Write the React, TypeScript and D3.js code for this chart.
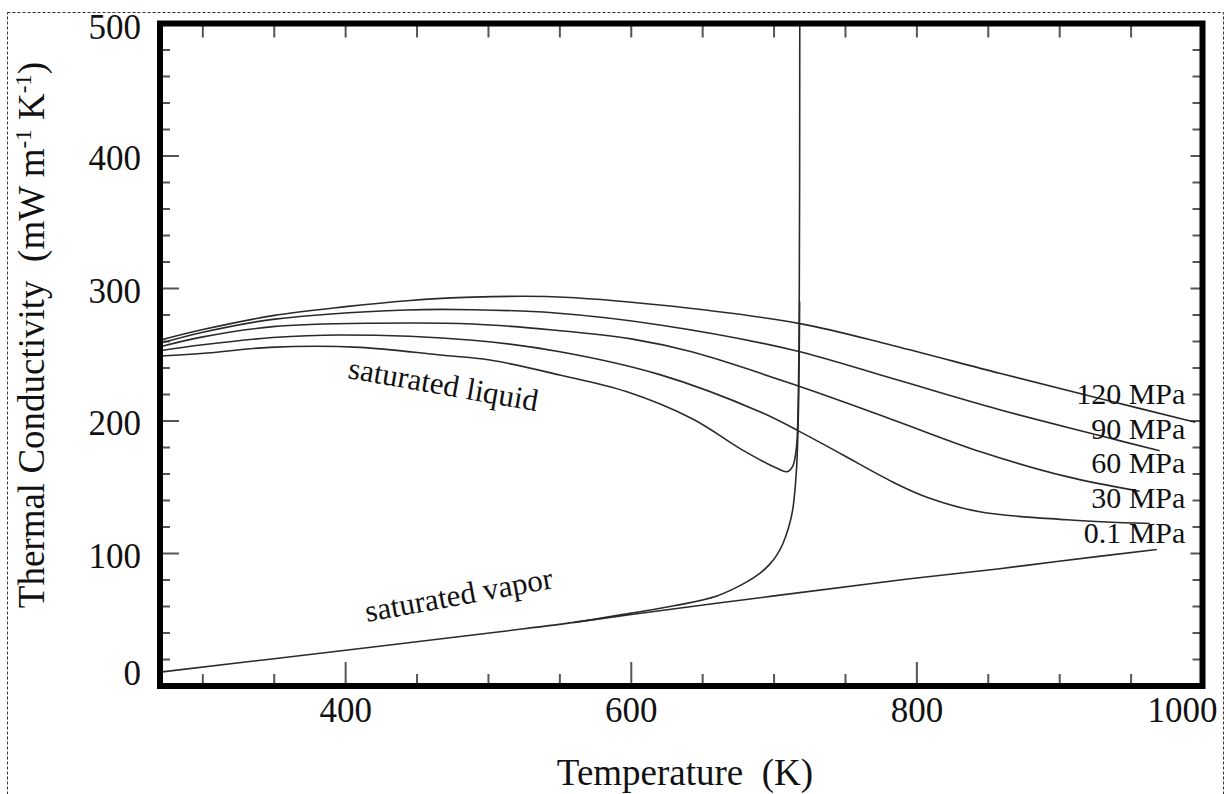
import React from "react";
import * as d3 from "d3";

// ---- axis ticks ----
const xMajorTicks = [400, 600, 800, 1000];
const xMinorTicks = [300, 350, 450, 500, 550, 650, 700, 750, 850, 900, 950];
const yMajorTicks = [0, 100, 200, 300, 400, 500];
const yMinorTicks = [20, 40, 60, 80, 120, 140, 160, 180, 220, 240, 260, 280, 320, 340, 360, 380, 420, 440, 460, 480];

// ---- isobars (T in K, lambda in mW m-1 K-1) ----
const T120 = [270, 300, 349, 400, 443, 489, 545, 620, 718, 783, 858, 928, 995];
const L120 = [261, 269, 279.5, 286.3, 290.8, 293.5, 293.8, 287.5, 273.5, 257, 236, 217, 199];

const T90 = [270, 300, 349, 443, 489, 545, 620, 713, 783, 858, 928, 970];
const L90 = [258.6, 267, 276.7, 283.8, 284, 281.7, 272.5, 253.6, 232, 208.5, 189, 177.5];

const T60 = [270, 300, 349, 420, 489, 545, 600, 643, 718, 783, 844, 905, 956];
const L60 = [256, 263.5, 271.2, 273.8, 273.2, 268.7, 262, 252, 226, 201, 177, 158, 147];

const T30 = [270, 300, 349, 396, 489, 550, 620, 690, 718, 748, 783, 807, 844, 905, 963];
const L30 = [253, 257.5, 263, 264.9, 261, 252.3, 235, 207, 192, 174.5, 154, 142.5, 131.5, 125.5, 122.6];

const T01 = [560, 600, 700, 788, 858, 898, 968];
const L01 = [48, 54, 68, 80, 88.5, 94, 103];

// ---- saturation curves ----
const TsatLiq = [270, 303, 347, 410, 466, 501, 550, 597, 643, 678, 702, 709, 713, 715.7, 716.8, 717.6, 718];
const LsatLiq = [249, 251.3, 255.6, 255.6, 249.8, 246, 234.7, 222, 201.5, 178, 164.3, 161.7, 165.8, 180.6, 210, 280, 500];

const TsatVap = [270, 400, 508, 560, 600, 630, 660, 680, 690, 697, 702, 706, 710, 713, 715.5, 716.8, 717.5, 717.9];
const LsatVap = [10.5, 27, 41, 48, 55, 60.5, 68, 78, 85, 92, 99, 107, 119, 132.8, 160, 195, 240, 290];

// ---- labels ----
const pressureLabels = ["120 MPa", "90 MPa", "60 MPa", "30 MPa", "0.1 MPa"];
const pressureLabelT = 988;
const pressureLabelL = [213, 186.5, 161, 134.5, 108];

const satLiqLabel = "saturated liquid";
const satLiqLabelAt = [401, 232.5];
const satVapLabel = "saturated vapor";
const satVapLabelAt = [415, 48.3];

const xTitle = "Temperature  (K)";

const W = 1226;
const H = 794;
const FONT = "'Liberation Serif', 'Times New Roman', serif";

function zip(t: number[], l: number[]): [number, number][] {
  return t.map((v, i) => [v, l[i]] as [number, number]);
}

export default function App() {
  const x = d3.scaleLinear().domain([270, 1000]).range([160, 1202.5]);
  const y = d3.scaleLinear().domain([0, 500]).range([686, 23.5]);
  const line = d3
    .line<[number, number]>()
    .x((d) => x(d[0]))
    .y((d) => y(d[1]))
    .curve(d3.curveCatmullRom.alpha(0.5));

  const series = [
    zip(T120, L120),
    zip(T90, L90),
    zip(T60, L60),
    zip(T30, L30),
    zip(T01, L01),
    zip(TsatLiq, LsatLiq),
    zip(TsatVap, LsatVap),
  ];

  const [x0, x1] = x.range();
  const [y0, y1] = y.range();

  const tickColor = "#555";
  const lineColor = "#2a2a2a";

  return (
    <svg
      width={W}
      height={H}
      style={{ position: "absolute", left: 0, top: 0, background: "#fff" }}
      fontFamily={FONT}
    >
      <rect x={0} y={0} width={W} height={H} fill="#fff" />
      <rect
        x={7.5}
        y={12.5}
        width={1216}
        height={820}
        fill="none"
        stroke="#333"
        strokeWidth={1}
        strokeDasharray="3,2"
      />
      <defs>
        <clipPath id="plotClip">
          <rect x={x0} y={y1} width={x1 - x0} height={y0 - y1} />
        </clipPath>
      </defs>

      {/* ticks */}
      <g stroke={tickColor} strokeWidth={2}>
        {xMajorTicks.map((t) => (
          <g key={"xM" + t}>
            <line x1={x(t)} x2={x(t)} y1={y0} y2={y0 - 24} />
            <line x1={x(t)} x2={x(t)} y1={y1} y2={y1 + 14} />
          </g>
        ))}
        {xMinorTicks.map((t) => (
          <g key={"xm" + t}>
            <line x1={x(t)} x2={x(t)} y1={y0} y2={y0 - 12} />
            <line x1={x(t)} x2={x(t)} y1={y1} y2={y1 + 14} />
          </g>
        ))}
        {yMajorTicks.map((t) => (
          <g key={"yM" + t}>
            <line x1={x0} x2={x0 + 19} y1={y(t)} y2={y(t)} />
            <line x1={x1} x2={x1 - 12} y1={y(t)} y2={y(t)} />
          </g>
        ))}
        {yMinorTicks.map((t) => (
          <g key={"ym" + t}>
            <line x1={x0} x2={x0 + 10} y1={y(t)} y2={y(t)} />
            <line x1={x1} x2={x1 - 10} y1={y(t)} y2={y(t)} />
          </g>
        ))}
      </g>

      {/* curves */}
      <g clipPath="url(#plotClip)" fill="none" stroke={lineColor} strokeWidth={1.6}>
        {series.map((s, i) => (
          <path key={i} d={line(s) || ""} />
        ))}
      </g>

      {/* frame */}
      <rect
        x={x0}
        y={y1}
        width={x1 - x0}
        height={y0 - y1}
        fill="none"
        stroke="#000"
        strokeWidth={6}
      />

      {/* tick labels */}
      <g fontSize={35} fill="#111">
        {xMajorTicks.map((t) => (
          <text
            key={"xl" + t}
            x={t === 1000 ? x(t) + 15 : x(t)}
            y={722}
            textAnchor={t === 1000 ? "end" : "middle"}
          >
            {t}
          </text>
        ))}
        {yMajorTicks.map((t) => (
          <text
            key={"yl" + t}
            x={141}
            y={t === 0 ? y(t) - 1 : t === 500 ? y(t) + 15.5 : y(t) + 14}
            textAnchor="end"
          >
            {t}
          </text>
        ))}
      </g>

      {/* axis titles */}
      <text x={685} y={785} fontSize={37} textAnchor="middle" fill="#111" style={{ whiteSpace: "pre" }}>
        {xTitle}
      </text>
      <text
        transform="translate(44,335) rotate(-90)"
        fontSize={37}
        textAnchor="middle"
        fill="#111"
        style={{ whiteSpace: "pre" }}
      >
        <tspan>{"Thermal Conductivity  (mW m"}</tspan>
        <tspan fontSize={23} dy={-13}>{"-1"}</tspan>
        <tspan dy={13}>{" K"}</tspan>
        <tspan fontSize={23} dy={-13}>{"-1"}</tspan>
        <tspan dy={13}>{")"}</tspan>
      </text>

      {/* pressure labels */}
      <g fontSize={30} fill="#111" textAnchor="end">
        {pressureLabels.map((p, i) => (
          <text key={p} x={x(pressureLabelT)} y={y(pressureLabelL[i])}>
            {p}
          </text>
        ))}
      </g>

      {/* saturation labels */}
      <text
        fontSize={31}
        fill="#111"
        transform={`translate(${x(satLiqLabelAt[0])},${y(satLiqLabelAt[1])}) rotate(10)`}
      >
        {satLiqLabel}
      </text>
      <text
        fontSize={31}
        fill="#111"
        transform={`translate(${x(satVapLabelAt[0])},${y(satVapLabelAt[1])}) rotate(-10.3)`}
      >
        {satVapLabel}
      </text>
    </svg>
  );
}
